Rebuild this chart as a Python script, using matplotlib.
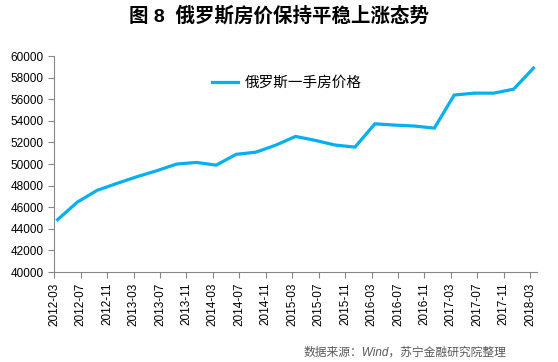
import numpy as np
import matplotlib
matplotlib.use('Agg')
import matplotlib.pyplot as plt

plt.rcParams['font.family'] = ['Liberation Sans', 'Noto Sans CJK SC', 'DejaVu Sans']

# 季度数据：2012-03 至 2018-03
quarters = ['2012-03', '2012-06', '2012-09', '2012-12', '2013-03', '2013-06', '2013-09',
            '2013-12', '2014-03', '2014-06', '2014-09', '2014-12', '2015-03', '2015-06',
            '2015-09', '2015-12', '2016-03', '2016-06', '2016-09', '2016-12', '2017-03',
            '2017-06', '2017-09', '2017-12', '2018-03']
prices = [44850, 46480, 47570, 48210, 48830, 49380, 50000,
          50150, 49900, 50900, 51100, 51750, 52560, 52190,
          51760, 51570, 53730, 53610, 53520, 53330, 56390,
          56570, 56570, 56940, 58890]
tick_labels = ['2012-03', '2012-07', '2012-11', '2013-03', '2013-07', '2013-11', '2014-03',
               '2014-07', '2014-11', '2015-03', '2015-07', '2015-11', '2016-03', '2016-07',
               '2016-11', '2017-03', '2017-07', '2017-11', '2018-03']

def month_index(s):
    y, m = s.split('-')
    return (int(y) - 2012) * 12 + int(m) - 3

x = np.array([month_index(q) for q in quarters]) + 0.5
ticks = [month_index(t) for t in tick_labels]

fig = plt.figure(figsize=(5.58, 3.62), dpi=100)
ax = fig.add_axes([0.0973, 0.2486, 0.8647, 0.5964])

ax.plot(x, prices, color='#00B0F0', lw=2.3, label='俄罗斯一手房价格', solid_joinstyle='miter')

ax.set_xlim(0, 73)
ax.set_ylim(40000, 60000)
ax.set_yticks(np.arange(40000, 60001, 2000))
ax.set_xticks(ticks)
ax.set_xticklabels(tick_labels, rotation=90, fontsize=8.5)
ax.tick_params(axis='y', labelsize=8.5, length=4, color='#868686', width=0.8)
ax.tick_params(axis='x', length=4, color='#868686', width=0.8)

for s in ['top', 'right']:
    ax.spines[s].set_visible(False)
for s in ['left', 'bottom']:
    ax.spines[s].set_color('#868686')
    ax.spines[s].set_linewidth(0.8)

ax.legend(loc='upper left', bbox_to_anchor=(0.30, 0.97), frameon=False, fontsize=10.5,
          handlelength=1.8, handletextpad=0.4)

fig.text(0.5, 0.957, '图 8  俄罗斯房价保持平稳上涨态势', ha='center', va='center',
         fontsize=14, fontweight='bold')
fig.text(0.908, 0.025, '数据来源：Wind，苏宁金融研究院整理', ha='right', va='center',
         fontsize=8.5, color='#595959', fontstyle='italic')

fig.savefig('out.png', dpi=100)
